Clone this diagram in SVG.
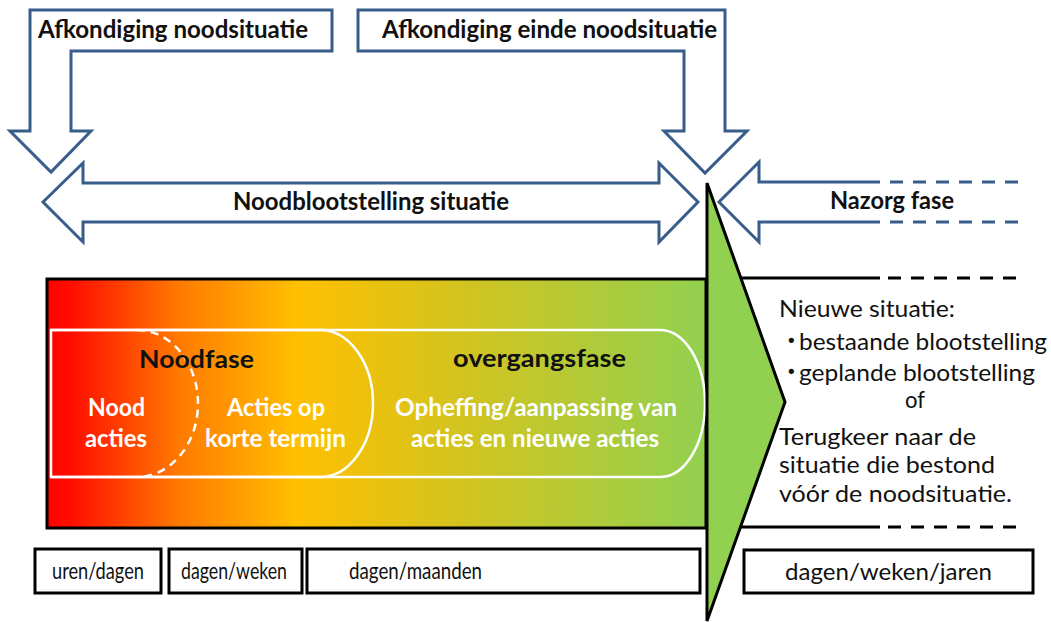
<svg xmlns="http://www.w3.org/2000/svg" width="1051" height="622" viewBox="0 0 1051 622">
<style>
.blue{fill:#fff;stroke:#385d8a;stroke-width:3;stroke-linejoin:miter}
.bline{fill:none;stroke:#385d8a;stroke-width:3}
.bdash{fill:none;stroke:#385d8a;stroke-width:3;stroke-dasharray:13 10}
.kline{fill:none;stroke:#000;stroke-width:3}
.kdash{fill:none;stroke:#000;stroke-width:3;stroke-dasharray:13 10}
.wline{fill:none;stroke:#fff;stroke-width:2.5}
.wdash{fill:none;stroke:#fff;stroke-width:2.5;stroke-dasharray:8 6}
.box{fill:#fff;stroke:#000;stroke-width:3}
.tb{font-family:Lato,"Open Sans","Liberation Sans",sans-serif;font-weight:bold;font-size:24px;fill:#111}
.tw{font-family:Lato,"Open Sans","Liberation Sans",sans-serif;font-weight:bold;font-size:24px;fill:#fff}
.tr{font-family:Lato,"Open Sans","Liberation Sans",sans-serif;font-size:24px;fill:#111}
.bul{font-family:"DejaVu Sans",sans-serif;font-size:18px;fill:#111}
</style>
<defs>
<linearGradient id="grad" x1="47" y1="0" x2="706" y2="0" gradientUnits="userSpaceOnUse">
<stop offset="0" stop-color="#ff0000"/>
<stop offset="0.04" stop-color="#ff1000"/>
<stop offset="0.2" stop-color="#ff7a00"/>
<stop offset="0.38" stop-color="#ffc000"/>
<stop offset="0.6" stop-color="#d8c31c"/>
<stop offset="1" stop-color="#92d050"/>
</linearGradient>
</defs>

<g id="afkondiging-noodsituatie">
<path class="blue" d="M30,10 H332 V51 H71 V131 H91 L51,172 L10,131 H30 Z"/>
<text class="tb" x="38" y="38" textLength="270" lengthAdjust="spacingAndGlyphs">Afkondiging noodsituatie</text>
</g>

<g id="afkondiging-einde">
<path class="blue" d="M358,10 H725 V131 H747 L705,173 L664,131 H684 V51 H358 Z"/>
<text class="tb" x="382" y="38" textLength="335" lengthAdjust="spacingAndGlyphs">Afkondiging einde noodsituatie</text>
</g>

<g id="noodblootstelling">
<path class="blue" d="M43,202 L83,163 V183 H659 V163 L698,202 L659,242 V222 H83 V242 Z"/>
<text class="tb" x="233" y="210" textLength="276" lengthAdjust="spacingAndGlyphs">Noodblootstelling situatie</text>
</g>

<g id="nazorg">
<path class="bline" d="M880,182 H759 V162 L719,202 L759,242 V222 H880"/>
<path class="bdash" d="M890,182 H1018 M890,222 H1018"/>
<text class="tb" x="830" y="209" textLength="124" lengthAdjust="spacingAndGlyphs">Nazorg fase</text>
</g>

<g id="connectors">
<path class="kline" d="M706,278 H880 M706,527 H880"/>
<path class="kdash" d="M888,278 H1016 M888,527 H1016"/>
</g>

<g id="fasen">
<rect x="47" y="279" width="659" height="249" fill="url(#grad)" stroke="#000" stroke-width="3"/>
<path class="wline" d="M51,330 H660 A45,73.5 0 0 1 660,477 H51 Z"/>
<path class="wline" d="M51,330 H320 A53,73.5 0 0 1 320,477 H51"/>
<path class="wdash" d="M137,330 A61,73.5 0 0 1 137,477"/>
<text class="tb" x="139" y="368" textLength="115" lengthAdjust="spacingAndGlyphs">Noodfase</text>
<text class="tw" x="88" y="416" textLength="57" lengthAdjust="spacingAndGlyphs">Nood</text>
<text class="tw" x="85" y="447" textLength="62" lengthAdjust="spacingAndGlyphs">acties</text>
<text class="tw" x="227" y="416" textLength="98" lengthAdjust="spacingAndGlyphs">Acties op</text>
<text class="tw" x="205" y="447" textLength="141" lengthAdjust="spacingAndGlyphs">korte termijn</text>
<text class="tb" x="453" y="367" textLength="173" lengthAdjust="spacingAndGlyphs">overgangsfase</text>
<text class="tw" x="395" y="416" textLength="282" lengthAdjust="spacingAndGlyphs">Opheffing/aanpassing van</text>
<text class="tw" x="411" y="447" textLength="248" lengthAdjust="spacingAndGlyphs">acties en nieuwe acties</text>
</g>

<g id="pijl">
<polygon points="707,183 785,402 707,621" fill="#92d050" stroke="#000" stroke-width="3" stroke-linejoin="miter"/>
</g>

<g id="nieuwe-situatie">
<text class="tr" x="779" y="317" textLength="176" lengthAdjust="spacingAndGlyphs">Nieuwe situatie:</text>
<text class="bul" x="786" y="347">•</text>
<text class="tr" x="799" y="350" textLength="248" lengthAdjust="spacingAndGlyphs">bestaande blootstelling</text>
<text class="bul" x="786" y="378">•</text>
<text class="tr" x="799" y="381" textLength="236" lengthAdjust="spacingAndGlyphs">geplande blootstelling</text>
<text class="tr" x="905" y="408" textLength="20" lengthAdjust="spacingAndGlyphs">of</text>
<text class="tr" x="779" y="445" textLength="197" lengthAdjust="spacingAndGlyphs">Terugkeer naar de</text>
<text class="tr" x="779" y="473" textLength="216" lengthAdjust="spacingAndGlyphs">situatie die bestond</text>
<text class="tr" x="779" y="502" textLength="233" lengthAdjust="spacingAndGlyphs">vóór de noodsituatie.</text>
</g>

<g id="tijd-1">
<rect class="box" x="35" y="549" width="126" height="44"/>
<text class="tr" x="52" y="579" textLength="92" lengthAdjust="spacingAndGlyphs">uren/dagen</text>
</g>
<g id="tijd-2">
<rect class="box" x="169" y="549" width="133" height="44"/>
<text class="tr" x="181" y="579" textLength="106" lengthAdjust="spacingAndGlyphs">dagen/weken</text>
</g>
<g id="tijd-3">
<rect class="box" x="307" y="549" width="393" height="44"/>
<text class="tr" x="349" y="579" textLength="133" lengthAdjust="spacingAndGlyphs">dagen/maanden</text>
</g>
<g id="tijd-4">
<rect class="box" x="744" y="550" width="289" height="43"/>
<text class="tr" x="785" y="580" textLength="207" lengthAdjust="spacingAndGlyphs">dagen/weken/jaren</text>
</g>
</svg>
